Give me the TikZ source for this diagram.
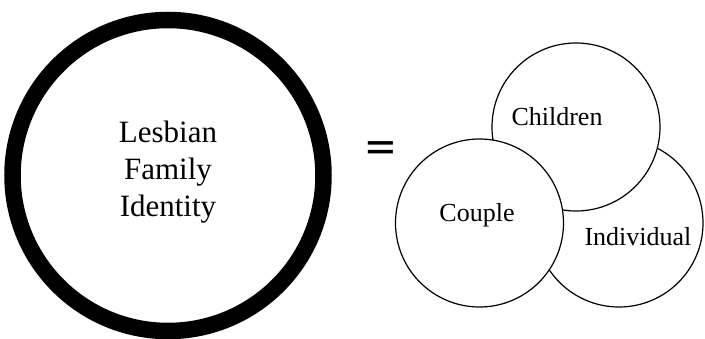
\documentclass[tikz,border=0pt]{standalone}
\usepackage{fontspec}
\setmainfont{Liberation Serif}
\newfontfamily\eqfont{Liberation Sans}
\begin{document}
\begin{tikzpicture}[x=1pt,y=-1pt,
  bigring/.style={draw=black,line width=16.5pt,circle,inner sep=0pt,minimum size=311pt},
  part/.style={draw=black,line width=1.2pt,fill=white,circle,inner sep=0pt,minimum size=168pt},
  partlabel/.style={font=\fontsize{26}{30}\selectfont,anchor=base},
  maintext/.style={font=\fontsize{31}{37}\selectfont,align=center}]
\useasboundingbox (0,0) rectangle (705,339);

% the whole identity
\node[bigring] (whole) at (168,175.5) {};
\node[maintext] (title) at (168,172) {Lesbian\\Family\\Identity};

% equals sign, a little flattened
\node[font=\eqfont\bfseries\fontsize{50}{50}\selectfont,anchor=base,inner sep=0pt] (eq) at (380.5,158.4) {\scalebox{1}[0.65]{=}};

% the three parts, back to front
\node[part] (individual) at (619,223) {};
\node[part] (children) at (576,127) {};
\node[part] (couple) at (479.5,223) {};

\node[partlabel] (lchildren) at (557,126) {Children};
\node[partlabel] (lcouple) at (477,222) {Couple};
\node[partlabel] (lindividual) at (638,246) {Individual};
\end{tikzpicture}
\end{document}
